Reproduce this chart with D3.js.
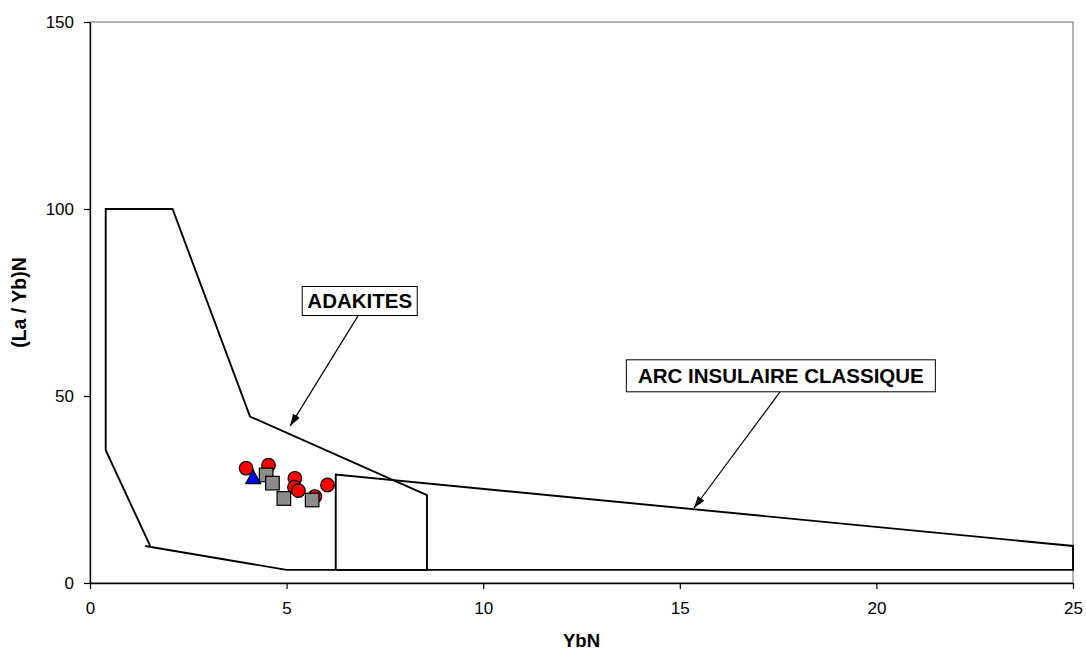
<!DOCTYPE html>
<html>
<head>
<meta charset="utf-8">
<script src="https://cdn.jsdelivr.net/npm/d3@7"></script>
<style>
  html, body { margin: 0; padding: 0; background: #fff; }
  svg { display: block; font-family: "Liberation Sans", Arial, sans-serif; }
</style>
</head>
<body>
<svg id="chart" width="1086" height="652"></svg>
<script>
// Samples: YbN (chondrite-normalised Yb) vs (La/Yb)N
const circleYb   = [3.97, 4.54, 5.21, 5.20, 5.30, 5.72, 6.04];
const circleLaYb = [30.7, 31.5, 28.0, 25.6, 24.7, 23.1, 26.2];

const triangleYb   = [4.15];
const triangleLaYb = [28.3];

const squareYb   = [4.48, 4.64, 4.93, 5.65];
const squareLaYb = [28.9, 26.7, 22.6, 22.2];

// Discrimination fields
const adakiteFieldYb   = [1.40, 5.00, 8.57, 8.57, 4.07, 2.10, 0.40, 0.40, 1.53];
const adakiteFieldLaYb = [9.9, 3.5, 3.5, 23.5, 44.5, 100, 100, 35.5, 9.9];

const arcFieldYb   = [6.25, 6.25, 25, 25, 6.25];
const arcFieldLaYb = [3.5, 29.0, 9.9, 3.5, 3.5];

// Axis ticks
const xTicks = [0, 5, 10, 15, 20, 25];
const yTicks = [0, 50, 100, 150];

// Field labels
const fieldLabels = ["ADAKITES", "ARC INSULAIRE CLASSIQUE"];

const svg = d3.select("#chart");
const margin = { left: 90, right: 13, top: 22, bottom: 69 };
const W = 1086, H = 652;

const x = d3.scaleLinear().domain([0, 25]).range([margin.left, W - margin.right]);
const y = d3.scaleLinear().domain([0, 150]).range([H - margin.bottom, margin.top]);

// plot area frame
svg.append("rect")
  .attr("x", x(0)).attr("y", y(150))
  .attr("width", x(25) - x(0)).attr("height", y(0) - y(150))
  .attr("fill", "none").attr("stroke", "#808080").attr("stroke-width", 1.2);

// axes
const xAxis = svg.append("g")
  .attr("transform", `translate(0,${y(0)})`)
  .call(d3.axisBottom(x).tickValues(xTicks).tickSize(6).tickPadding(13).tickSizeOuter(0));
const yAxis = svg.append("g")
  .attr("transform", `translate(${x(0)},0)`)
  .call(d3.axisLeft(y).tickValues(yTicks).tickSize(6).tickPadding(10).tickSizeOuter(0));

[xAxis, yAxis].forEach(g => {
  g.select(".domain").attr("stroke", "#000").attr("stroke-width", 1.3);
  g.selectAll(".tick line").attr("stroke", "#000").attr("stroke-width", 1.2);
  g.selectAll(".tick text")
    .attr("fill", "#000")
    .style("font-family", "'Liberation Sans', Arial, sans-serif")
    .style("font-size", "17px");
});

// axis titles
svg.append("text")
  .attr("x", (x(0) + x(25)) / 2).attr("y", 647)
  .attr("text-anchor", "middle")
  .style("font-size", "18.5px").style("font-weight", "bold")
  .text("YbN");
svg.append("text")
  .attr("transform", `translate(26,${(y(0) + y(150)) / 2}) rotate(-90)`)
  .attr("text-anchor", "middle")
  .style("font-size", "19.5px").style("font-weight", "bold")
  .text("(La / Yb)N");

// field outlines
const line = d3.line().x(d => x(d[0])).y(d => y(d[1]));
const adakitePts = adakiteFieldYb.map((v, i) => [v, adakiteFieldLaYb[i]]);
const arcPts = arcFieldYb.map((v, i) => [v, arcFieldLaYb[i]]);
[adakitePts, arcPts].forEach(pts => {
  svg.append("path")
    .attr("d", line(pts))
    .attr("fill", "none").attr("stroke", "#000").attr("stroke-width", 1.9)
    .attr("stroke-linejoin", "miter");
});

// arrowhead marker
svg.append("defs").append("marker")
  .attr("id", "arrow")
  .attr("viewBox", "0 0 12 8")
  .attr("refX", 12).attr("refY", 4)
  .attr("markerWidth", 12).attr("markerHeight", 8)
  .attr("markerUnits", "userSpaceOnUse")
  .attr("orient", "auto")
  .append("path").attr("d", "M0,0 L12,4 L0,8 Z").attr("fill", "#000");

// label boxes with leader arrows (positions in data units)
const labelLayout = [
  { cx: 6.86, cy: 75.4, w: 115, h: 29, from: [6.82, 71.5], to: [5.09, 42.0] },
  { cx: 17.57, cy: 55.4, w: 309, h: 32, from: [17.55, 51.1], to: [15.36, 20.05] }
];
labelLayout.forEach((L, i) => {
  svg.append("line")
    .attr("x1", x(L.from[0])).attr("y1", y(L.from[1]))
    .attr("x2", x(L.to[0])).attr("y2", y(L.to[1]))
    .attr("stroke", "#000").attr("stroke-width", 1.2)
    .attr("marker-end", "url(#arrow)");
  svg.append("rect")
    .attr("x", x(L.cx) - L.w / 2).attr("y", y(L.cy) - L.h / 2)
    .attr("width", L.w).attr("height", L.h)
    .attr("fill", "#fff").attr("stroke", "#000").attr("stroke-width", 1);
  svg.append("text")
    .attr("x", x(L.cx)).attr("y", y(L.cy))
    .attr("dy", "0.36em")
    .attr("text-anchor", "middle")
    .style("font-size", "20.5px").style("font-weight", "bold")
    .text(fieldLabels[i]);
});

// samples
const circles = circleYb.map((v, i) => [v, circleLaYb[i]]);
const triangles = triangleYb.map((v, i) => [v, triangleLaYb[i]]);
const squares = squareYb.map((v, i) => [v, squareLaYb[i]]);

svg.append("g").selectAll("circle").data(circles).join("circle")
  .attr("cx", d => x(d[0])).attr("cy", d => y(d[1])).attr("r", 6.8)
  .attr("fill", "#ff0000").attr("stroke", "#000").attr("stroke-width", 1.2);

// upright triangle centred on its bounding box
svg.append("g").selectAll("path").data(triangles).join("path")
  .attr("transform", d => `translate(${x(d[0])},${y(d[1])})`)
  .attr("d", "M0,-7 L7.5,6.5 L-7.5,6.5 Z")
  .attr("fill", "#0000ff").attr("stroke", "#000").attr("stroke-width", 1.2);

svg.append("g").selectAll("rect").data(squares).join("rect")
  .attr("x", d => x(d[0]) - 6.8).attr("y", d => y(d[1]) - 6.8)
  .attr("width", 13.6).attr("height", 13.6)
  .attr("fill", "#8c8c8c").attr("stroke", "#000").attr("stroke-width", 1.2);
</script>
</body>
</html>
